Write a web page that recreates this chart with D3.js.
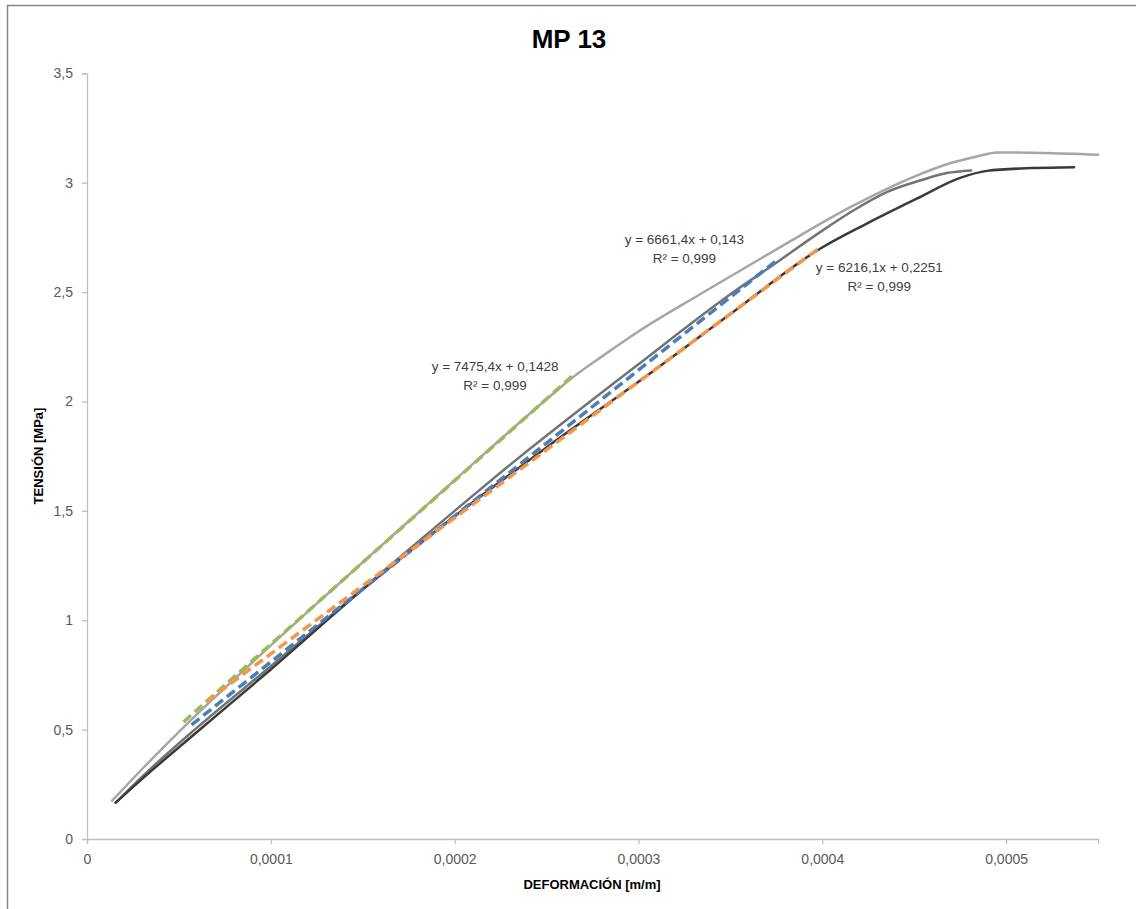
<!DOCTYPE html>
<html><head><meta charset="utf-8">
<script src="https://cdn.jsdelivr.net/npm/d3@7"></script>
<style>body{margin:0;background:#fff}svg{display:block}text{font-family:"Liberation Sans",Arial,sans-serif}</style>
</head><body><svg id="c" width="1136" height="909"></svg>
<script>
// ---- data (strain m/m, stress MPa) ----
const strainA = [0.0000137,0.00003,0.00005,0.0001,0.00015,0.0002,0.00025,0.000265,0.00028,0.0003,0.0003335,0.000376,0.0004168,0.0004478,0.00047,0.0004842,0.0004951,0.00052,0.00055];
const stressA = [0.175,0.32,0.49,0.885,1.265,1.64,2.01,2.115,2.205,2.32,2.49,2.70,2.895,3.02,3.09,3.12,3.138,3.136,3.128];
const strainB = [0.0000156,0.00003,0.00006,0.0001,0.00015,0.0002,0.000225,0.0003,0.00035,0.000376,0.0003988,0.0004169,0.0004351,0.0004532,0.0004677,0.000481];
const stressB = [0.166,0.285,0.51,0.79,1.145,1.50,1.675,2.17,2.49,2.64,2.774,2.873,2.957,3.010,3.044,3.056];
const strainC = [0.0000156,0.00003,0.00006,0.0001,0.00015,0.0002,0.00025,0.0003,0.00035,0.0003988,0.0004242,0.0004514,0.000475,0.0004895,0.0005147,0.000537];
const stressC = [0.166,0.275,0.49,0.775,1.14,1.475,1.79,2.09,2.40,2.698,2.813,2.927,3.022,3.054,3.067,3.071];
const trendGreenX = [0.0000525,0.000265], trendGreenY = [0.535,2.124];
const trendBlueX = [0.0000569,0.000376], trendBlueY = [0.522,2.650];
const trendOrangeX = [0.000065,0.000399], trendOrangeY = [0.629,2.705];
const labelGreen = ["y = 7475,4x + 0,1428","R² = 0,999"];
const labelBlue = ["y = 6661,4x + 0,143","R² = 0,999"];
const labelOrange = ["y = 6216,1x + 0,2251","R² = 0,999"];
const labelGreenPos = [0.000222,2.14], labelBluePos = [0.000325,2.72], labelOrangePos = [0.000431,2.59];
const xTicks = [0,0.0001,0.0002,0.0003,0.0004,0.0005];
const yTicks = [0,0.5,1,1.5,2,2.5,3,3.5];
const title = "MP 13", xTitle = "DEFORMACIÓN [m/m]", yTitle = "TENSIÓN [MPa]";

const svg = d3.select("#c");
const x = d3.scaleLinear().domain([0,0.00055]).range([87,1098]);
const y = d3.scaleLinear().domain([0,3.5]).range([839,73.3]);
const fmt = v => String(+v.toFixed(6)).replace(".",",");

svg.append("rect").attr("x",7.5).attr("y",5.5).attr("width",1140).attr("height",920)
  .attr("fill","none").attr("stroke","#868686").attr("stroke-width",1.5);

svg.append("text").attr("x",569).attr("y",48).attr("text-anchor","middle")
  .attr("font-size",26).attr("font-weight","bold").attr("fill","#000").text(title);

const gx = svg.append("g").attr("transform","translate(0,839)")
  .call(d3.axisBottom(x).tickValues(xTicks).tickFormat(fmt).tickSize(5).tickPadding(10));
const gy = svg.append("g").attr("transform","translate(87,0)")
  .call(d3.axisLeft(y).tickValues(yTicks).tickFormat(fmt).tickSize(5).tickPadding(9));
[gx,gy].forEach(g=>{
  g.select(".domain").attr("stroke","#bfbfbf").attr("stroke-width",1.3);
  g.selectAll(".tick line").attr("stroke","#bfbfbf").attr("stroke-width",1.3);
  g.selectAll(".tick text").attr("font-size",14).attr("fill","#595959").attr("font-family","Liberation Sans, Arial, sans-serif");
});
gy.selectAll(".tick").filter(d=>d===0).select("line").remove();

svg.append("text").attr("x",592).attr("y",889).attr("text-anchor","middle")
  .attr("font-size",13).attr("font-weight","bold").attr("fill","#000").text(xTitle);
svg.append("text").attr("transform","translate(43,456) rotate(-90)").attr("text-anchor","middle")
  .attr("font-size",13).attr("font-weight","bold").attr("fill","#000").text(yTitle);

const line = d3.line().x(d=>x(d[0])).y(d=>y(d[1])).curve(d3.curveMonotoneX);
const zip = (a,b)=>a.map((v,i)=>[v,b[i]]);
const series = [
  {xs:strainA, ys:stressA, color:"#a6a6a6"},
  {xs:strainB, ys:stressB, color:"#737373"},
  {xs:strainC, ys:stressC, color:"#3a3a3a"}
];
series.forEach(s=>svg.append("path").datum(zip(s.xs,s.ys)).attr("d",line)
  .attr("fill","none").attr("stroke",s.color).attr("stroke-width",2.5).attr("stroke-linecap","round"));

const trends = [
  {xs:trendGreenX, ys:trendGreenY, color:"#9bbb59"},
  {xs:trendBlueX, ys:trendBlueY, color:"#4a7ebb"},
  {xs:trendOrangeX, ys:trendOrangeY, color:"#f79646"}
];
trends.forEach(t=>svg.append("path").datum(zip(t.xs,t.ys)).attr("d",d3.line().x(d=>x(d[0])).y(d=>y(d[1])))
  .attr("fill","none").attr("stroke",t.color).attr("stroke-width",3.5).attr("stroke-dasharray","10,5"));

[[labelGreen,labelGreenPos],[labelBlue,labelBluePos],[labelOrange,labelOrangePos]].forEach(([lab,pos])=>{
  const t = svg.append("text").attr("text-anchor","middle").attr("font-size",13.5).attr("fill","#404040");
  lab.forEach((s,i)=>t.append("tspan").attr("x",x(pos[0])).attr("y",y(pos[1])+i*19).text(s));
});
</script></body></html>
